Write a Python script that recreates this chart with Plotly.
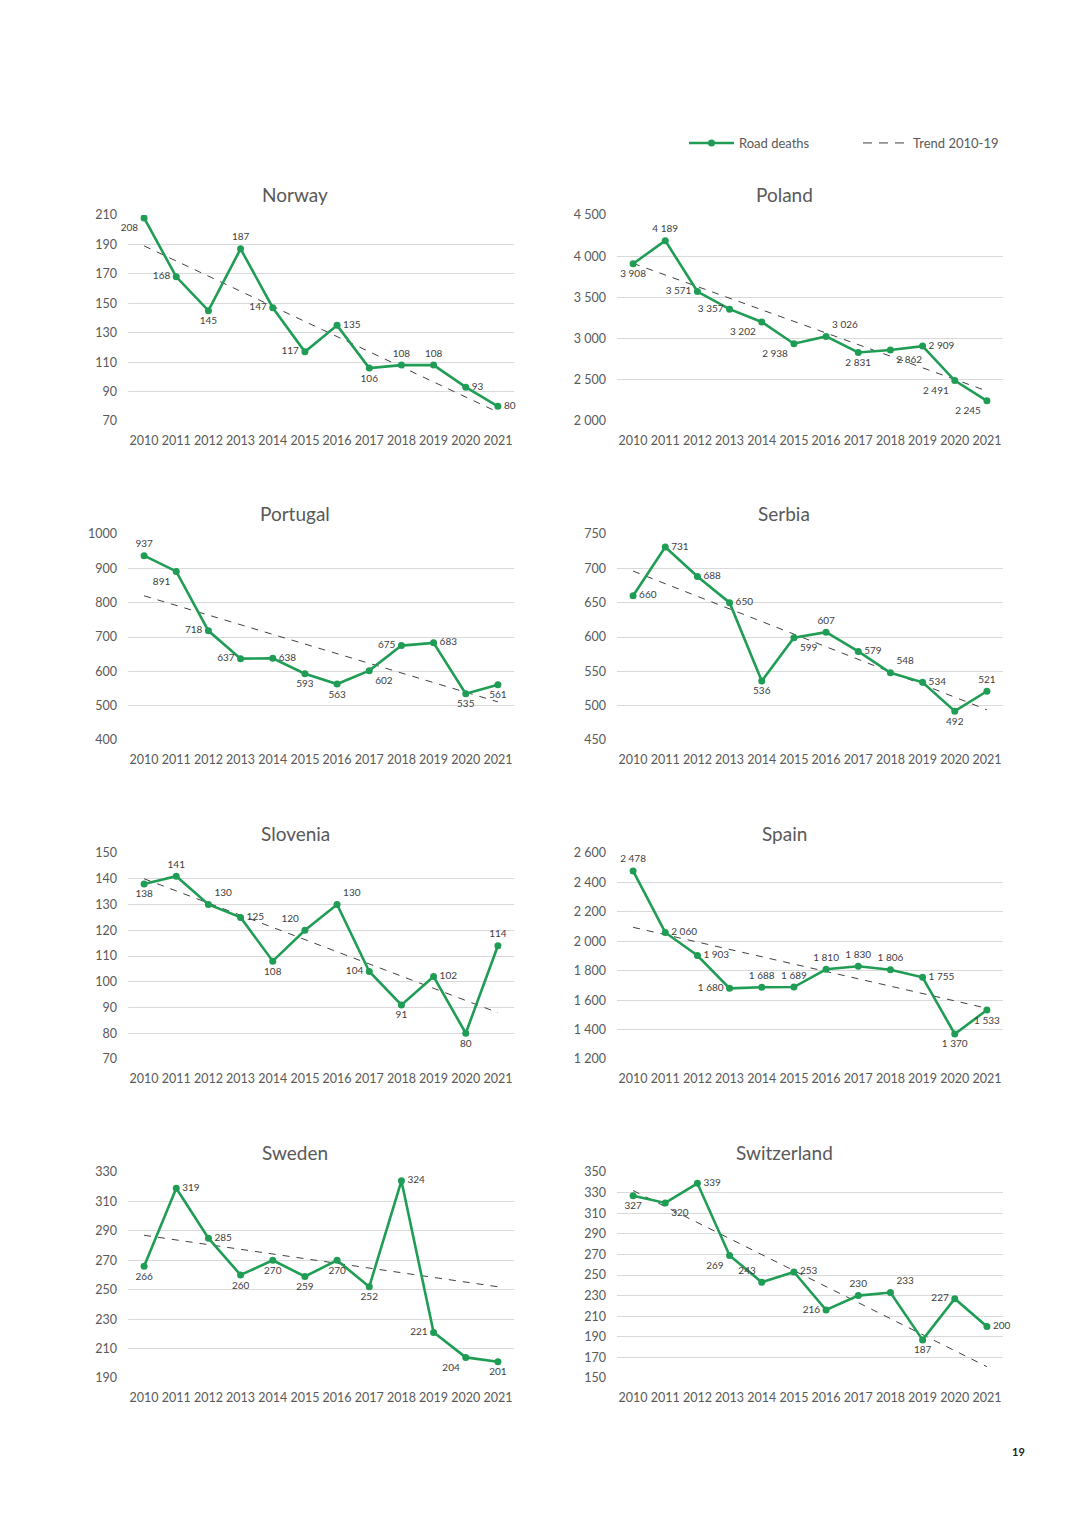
import plotly.graph_objects as go

years = list(range(2010, 2022))
countries = ["Norway", "Poland", "Portugal", "Serbia", "Slovenia", "Spain", "Sweden", "Switzerland"]

norway = [208, 168, 145, 187, 147, 117, 135, 106, 108, 108, 93, 80]
poland = [3908, 4189, 3571, 3357, 3202, 2938, 3026, 2831, 2862, 2909, 2491, 2245]
portugal = [937, 891, 718, 637, 638, 593, 563, 602, 675, 683, 535, 561]
serbia = [660, 731, 688, 650, 536, 599, 607, 579, 548, 534, 492, 521]
slovenia = [138, 141, 130, 125, 108, 120, 130, 104, 91, 102, 80, 114]
spain = [2478, 2060, 1903, 1680, 1688, 1689, 1810, 1830, 1806, 1755, 1370, 1533]
sweden = [266, 319, 285, 260, 270, 259, 270, 252, 324, 221, 204, 201]
switzerland = [327, 320, 339, 269, 243, 253, 216, 230, 233, 187, 227, 200]
series = [norway, poland, portugal, serbia, slovenia, spain, sweden, switzerland]

# Trend 2010-19 line, value at 2010 and at 2021
trend_start = [189, 3913, 820, 696, 140, 2095, 287, 332]
trend_end = [76, 2364, 511, 494, 88, 1545, 252, 161]

# y-axis ranges and tick steps
y_min = [70, 2000, 400, 450, 70, 1200, 190, 150]
y_max = [210, 4500, 1000, 750, 150, 2600, 330, 350]
y_step = [20, 500, 100, 50, 10, 200, 20, 20]
y_fmt = [",d", ",d", "d", ",d", ",d", ",d", ",d", ",d"]

# label placement (style)
POS = {"B": "bottom center", "T": "top center", "L": "middle left", "R": "middle right",
       "BL": "bottom left", "BR": "bottom right", "TL": "top left", "TR": "top right"}
label_pos = [
    "BL L B T L L R B T T R R",
    "B T L L BL BL TR B BR R BL BL",
    "T BL L L R B B BR L R B B",
    "R R R R B BR T R TR R B T",
    "B T TR R B TL TR L B R B T",
    "T R R L T T T T T R B B",
    "B R R B B B B B R L BL B",
    "B BR R BL TL R L T TR B L R",
]

GREEN = "#1f9d55"
GREY = "#595959"
FONT = "Lato"
W, H = 1080, 1528

fig = go.Figure()
layout = {}
annotations = []

for i, name in enumerate(countries):
    r, c = divmod(i, 2)
    k = i + 1
    xs = "x" if k == 1 else f"x{k}"
    ys = "y" if k == 1 else f"y{k}"
    xa = "xaxis" if k == 1 else f"xaxis{k}"
    ya = "yaxis" if k == 1 else f"yaxis{k}"
    top = 215 + 319 * r
    bot = 421 + 319 * r
    x0, x1 = (128, 514) if c == 0 else (617, 1003)
    vals = series[i]
    txt = [f"{v:,}".replace(",", " ") for v in vals]

    fig.add_trace(go.Scatter(
        x=[years[0], years[-1]], y=[trend_start[i], trend_end[i]], mode="lines",
        line=dict(color="#404040", width=1, dash="7px,7px"),
        name="Trend 2010-19", showlegend=False, xaxis=xs, yaxis=ys, hoverinfo="skip"))
    fig.add_trace(go.Scatter(
        x=years, y=vals, mode="lines+markers",
        line=dict(color=GREEN, width=2.6), marker=dict(color=GREEN, size=7),
        name="Road deaths", showlegend=(i == 0), legendrank=1,
        xaxis=xs, yaxis=ys))
    fig.add_trace(go.Scatter(
        x=years, y=vals, mode="markers+text", text=txt,
        marker=dict(size=8, color="rgba(0,0,0,0)"),
        textposition=[POS[p] for p in label_pos[i].split()],
        textfont=dict(size=10, color="#404040", family=FONT),
        showlegend=False, cliponaxis=False, xaxis=xs, yaxis=ys, hoverinfo="skip"))

    layout[xa] = dict(
        domain=[x0 / W, x1 / W], anchor=ys, range=[2009.5, 2021.5],
        tickmode="array", tickvals=years, ticktext=[str(y) for y in years],
        tickangle=0, automargin=False,
        showgrid=False, zeroline=False, showline=False, ticks="",
        tickfont=dict(size=12.5, color=GREY, family=FONT), ticklabelstandoff=10)
    layout[ya] = dict(
        domain=[1 - bot / H, 1 - top / H], anchor=xs, range=[y_min[i], y_max[i]],
        tick0=y_min[i], dtick=y_step[i], tickformat=y_fmt[i], automargin=False,
        showgrid=True, gridcolor="#d9d9d9", gridwidth=1, zeroline=False,
        showline=False, ticks="", tickfont=dict(size=12.5, color=GREY, family=FONT),
        ticklabelstandoff=10)
    annotations.append(dict(
        text=name, x=(295 if c == 0 else 784) / W, y=1 - (195 + 319 * r) / H,
        xref="paper", yref="paper", showarrow=False, xanchor="center", yanchor="middle",
        font=dict(size=19, color=GREY, family=FONT)))

# legend entry for the trend line
fig.add_trace(go.Scatter(
    x=[None], y=[None], mode="lines", line=dict(color="#404040", width=1, dash="9px,7px"),
    name="Trend 2010-19", showlegend=True, legendrank=2, xaxis="x", yaxis="y"))

annotations.append(dict(
    text="<b>19</b>", x=1027 / W, y=1 - 1460 / H, xref="paper", yref="paper",
    showarrow=False, font=dict(size=11, color="#222222", family=FONT)))

fig.update_layout(
    width=W, height=H, autosize=False,
    margin=dict(l=0, r=0, t=0, b=0, autoexpand=False),
    paper_bgcolor="white", plot_bgcolor="white",
    separators=". ",
    font=dict(family=FONT, color=GREY),
    showlegend=True,
    legend=dict(orientation="h", x=684 / W, y=1 - 143 / H, xanchor="left", yanchor="middle",
                font=dict(size=13, color=GREY, family=FONT), itemwidth=45, entrywidth=114,
                entrywidthmode="pixels", bgcolor="rgba(0,0,0,0)", traceorder="normal"),
    annotations=annotations,
    **layout)

fig.write_html(
    "out.html",
    config={"responsive": False, "displayModeBar": False},
    post_script="document.body.style.margin='0';document.body.style.overflow='hidden';"
                "document.documentElement.style.overflow='hidden';")
